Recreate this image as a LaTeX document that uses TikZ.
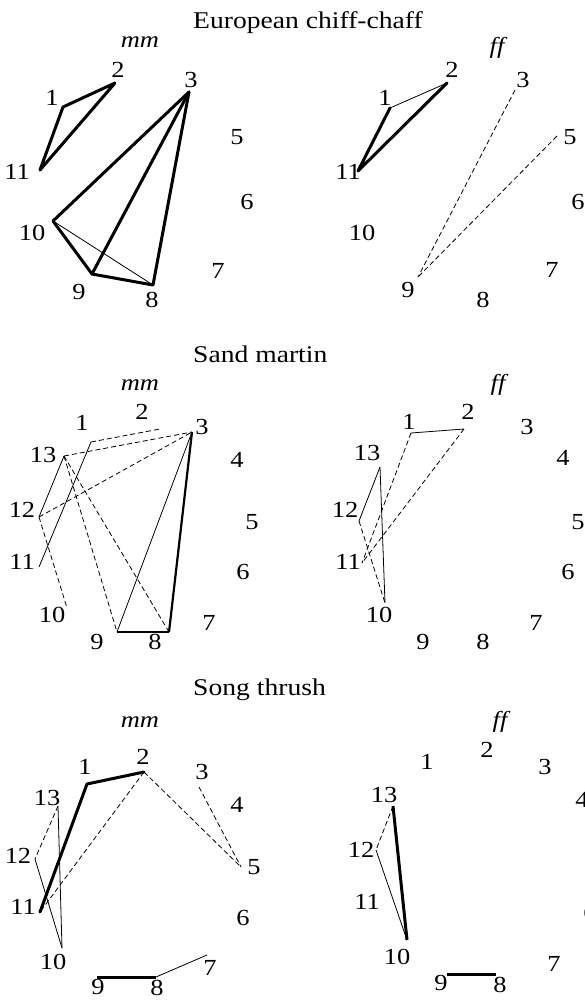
\documentclass[tikz,border=0pt]{standalone}
\usepackage{graphicx}
\usepackage{fontspec}
\setmainfont{Liberation Serif}
\newcommand\lab{\fontsize{23}{23}\selectfont}
\newcommand\tlab{\fontsize{24}{24}\selectfont}
\newcommand\stw[1]{\scalebox{1.15}[1]{#1}}
\tikzset{
  lbl/.style={font=\lab, inner sep=0pt},
  ttl/.style={font=\tlab, inner sep=0pt, anchor=base west},
  sx/.style={font=\lab\itshape, inner sep=0pt},
  thk/.style={line width=3pt, line join=round, line cap=round},
  thn/.style={line width=0.8pt},
  dsh/.style={line width=0.8pt, dash pattern=on 5pt off 3pt}
}
\begin{document}
\begin{tikzpicture}[x=1pt,y=-1pt]
\useasboundingbox (0,0) rectangle (585,1001);
% ===== Panel 1: European chiff-chaff =====
\node[ttl] (t1) at (193,28) {\stw{European chiff-chaff}};
% mm
\node[sx] (m1) at (140,42) {\stw{mm}};
\node[lbl] (a2) at (118,70) {\stw{2}};
\node[lbl] (a1) at (52,98) {\stw{1}};
\node[lbl] (a11) at (17,172) {\stw{11}};
\node[lbl] (a3) at (191,80) {\stw{3}};
\node[lbl] (a5) at (237,137) {\stw{5}};
\node[lbl] (a6) at (247,202) {\stw{6}};
\node[lbl] (a10) at (32,233) {\stw{10}};
\node[lbl] (a7) at (218,271) {\stw{7}};
\node[lbl] (a9) at (79,292) {\stw{9}};
\node[lbl] (a8) at (152,300) {\stw{8}};
\coordinate (p1) at (63,107);
\coordinate (p2) at (115,83);
\coordinate (p11) at (40,170);
\coordinate (p3) at (189,92);
\coordinate (p10) at (53,221);
\coordinate (p9) at (92,274);
\coordinate (p8) at (153,285);
\draw[thk] (p1) -- (p2) -- (p11) -- cycle;
\draw[thk] (p3) -- (p10) -- (p9) -- (p8) -- cycle;
\draw[thk] (p3) -- (p9);
\draw[thn] (p10) -- (p8);
% ff
\node[sx] (f1) at (497,48) {\stw{ff}};
\node[lbl] (b2) at (452,70) {\stw{2}};
\node[lbl] (b3) at (523,80) {\stw{3}};
\node[lbl] (b1) at (385,98) {\stw{1}};
\node[lbl] (b5) at (570,137) {\stw{5}};
\node[lbl] (b11) at (348,172) {\stw{11}};
\node[lbl] (b6) at (578,202) {\stw{6}};
\node[lbl] (b10) at (362,233) {\stw{10}};
\node[lbl] (b7) at (552,270) {\stw{7}};
\node[lbl] (b9) at (408,290) {\stw{9}};
\node[lbl] (b8) at (483,300) {\stw{8}};
\coordinate (q1) at (390,108);
\coordinate (q2) at (447,83);
\coordinate (q11) at (358,171);
\coordinate (q3) at (515,90);
\coordinate (q5) at (557,136);
\coordinate (q9) at (418,277);
\draw[thn] (q1) -- (q2);
\draw[thk] (q2) -- (q11) -- (q1);
\draw[dsh] (q3) -- (q9);
\draw[dsh] (q5) -- (q9);
% ===== Panel 2: Sand martin =====
\node[ttl] (t2) at (193,362) {\stw{Sand martin}};
\node[sx] (m2) at (140,385) {\stw{mm}};
\node[lbl] (c2) at (142,412) {\stw{2}};
\node[lbl] (c1) at (82,423) {\stw{1}};
\node[lbl] (c3) at (202,427) {\stw{3}};
\node[lbl] (c13) at (43,455) {\stw{13}};
\node[lbl] (c4) at (237,460) {\stw{4}};
\node[lbl] (c12) at (22,510) {\stw{12}};
\node[lbl] (c5) at (252,522) {\stw{5}};
\node[lbl] (c11) at (22,562) {\stw{11}};
\node[lbl] (c6) at (243,572) {\stw{6}};
\node[lbl] (c10) at (52,615) {\stw{10}};
\node[lbl] (c7) at (209,623) {\stw{7}};
\node[lbl] (c9) at (97,642) {\stw{9}};
\node[lbl] (c8) at (155,642) {\stw{8}};
\coordinate (r1) at (91,442);
\coordinate (r2) at (160,429);
\coordinate (r3) at (192,432);
\coordinate (r13) at (64,456);
\coordinate (r12) at (39,517);
\coordinate (r11) at (39,567);
\coordinate (r10) at (67,608);
\coordinate (r9) at (117,632);
\coordinate (r8) at (169,632);
\draw[dsh] (r1) -- (r2);
\draw[thn] (r1) -- (r11);
\draw[dsh] (r13) -- (r3);
\draw[dsh] (r12) -- (r3);
\draw[thn] (r13) -- (r12);
\draw[dsh] (r12) -- (r10);
\draw[dsh] (r13) -- (r9);
\draw[dsh] (r13) -- (r8);
\draw[thn] (r9) -- (r3);
\draw[line width=1.1pt] (r9) -- (r8);
\draw[line width=2.2pt] (r8) -- (r3);
% ff
\node[sx] (f2) at (498,385) {\stw{ff}};
\node[lbl] (d2) at (468,412) {\stw{2}};
\node[lbl] (d1) at (409,422) {\stw{1}};
\node[lbl] (d3) at (527,427) {\stw{3}};
\node[lbl] (d13) at (367,453) {\stw{13}};
\node[lbl] (d4) at (563,458) {\stw{4}};
\node[lbl] (d12) at (345,510) {\stw{12}};
\node[lbl] (d5) at (578,522) {\stw{5}};
\node[lbl] (d11) at (348,562) {\stw{11}};
\node[lbl] (d6) at (568,572) {\stw{6}};
\node[lbl] (d10) at (379,615) {\stw{10}};
\node[lbl] (d7) at (536,623) {\stw{7}};
\node[lbl] (d9) at (423,642) {\stw{9}};
\node[lbl] (d8) at (483,642) {\stw{8}};
\coordinate (s1) at (411,433);
\coordinate (s2) at (464,429);
\coordinate (s13) at (380,467);
\coordinate (s12) at (359,521);
\coordinate (s11) at (362,563);
\coordinate (s10) at (385,603);
\draw[thn] (s1) -- (s2);
\draw[dsh] (s1) -- (s11);
\draw[dsh] (s2) -- (s11);
\draw[thn] (s13) -- (s12);
\draw[thn] (s13) -- (s10);
\draw[dsh] (s12) -- (s10);
% ===== Panel 3: Song thrush =====
\node[ttl] (t3) at (193,695) {\stw{Song thrush}};
\node[sx] (m3) at (140,722) {\stw{mm}};
\node[lbl] (e2) at (143,757) {\stw{2}};
\node[lbl] (e1) at (85,767) {\stw{1}};
\node[lbl] (e3) at (202,772) {\stw{3}};
\node[lbl] (e13) at (47,798) {\stw{13}};
\node[lbl] (e4) at (237,805) {\stw{4}};
\node[lbl] (e12) at (18,856) {\stw{12}};
\node[lbl] (e5) at (254,867) {\stw{5}};
\node[lbl] (e11) at (23,907) {\stw{11}};
\node[lbl] (e6) at (243,918) {\stw{6}};
\node[lbl] (e10) at (53,962) {\stw{10}};
\node[lbl] (e7) at (210,968) {\stw{7}};
\node[lbl] (e9) at (98,987) {\stw{9}};
\node[lbl] (e8) at (157,988) {\stw{8}};
\coordinate (t1p) at (87,784);
\coordinate (t2p) at (144,772);
\coordinate (t3p) at (199,787);
\coordinate (t5p) at (241,867);
\coordinate (t13p) at (58,806);
\coordinate (t12p) at (35,859);
\coordinate (t11p) at (40,912);
\coordinate (t10p) at (62,948);
\coordinate (t9p) at (97,977);
\coordinate (t8p) at (156,977);
\coordinate (t7p) at (207,955);
\draw[thk] (t11p) -- (t1p) -- (t2p);
\draw[dsh] (t2p) -- (t11p);
\draw[dsh] (t2p) -- (t5p);
\draw[dsh] (t3p) -- (t5p);
\draw[dsh] (t13p) -- (t12p);
\draw[thn] (t13p) -- (t10p);
\draw[thn] (t12p) -- (t10p);
\draw[line width=3pt] (t9p) -- (t8p);
\draw[thn] (t8p) -- (t7p);
% ff
\node[sx] (f3) at (500,722) {\stw{ff}};
\node[lbl] (g2) at (487,750) {\stw{2}};
\node[lbl] (g1) at (427,762) {\stw{1}};
\node[lbl] (g3) at (545,767) {\stw{3}};
\node[lbl] (g13) at (384,795) {\stw{13}};
\node[lbl] (g4) at (582,800) {\stw{4}};
\node[lbl] (g12) at (361,850) {\stw{12}};
\node[lbl] (g11) at (367,902) {\stw{11}};
\node[lbl] (g6) at (590,913) {\stw{6}};
\node[lbl] (g10) at (397,957) {\stw{10}};
\node[lbl] (g7) at (554,964) {\stw{7}};
\node[lbl] (g9) at (441,983) {\stw{9}};
\node[lbl] (g8) at (500,985) {\stw{8}};
\coordinate (u13) at (393,806);
\coordinate (u12) at (376,850);
\coordinate (u10) at (407,940);
\coordinate (u9) at (447,974);
\coordinate (u8) at (496,974);
\draw[dsh] (u13) -- (u12);
\draw[thn] (u12) -- (u10);
\draw[line width=3pt] (u13) -- (u10);
\draw[line width=3pt] (u9) -- (u8);
\end{tikzpicture}
\end{document}
